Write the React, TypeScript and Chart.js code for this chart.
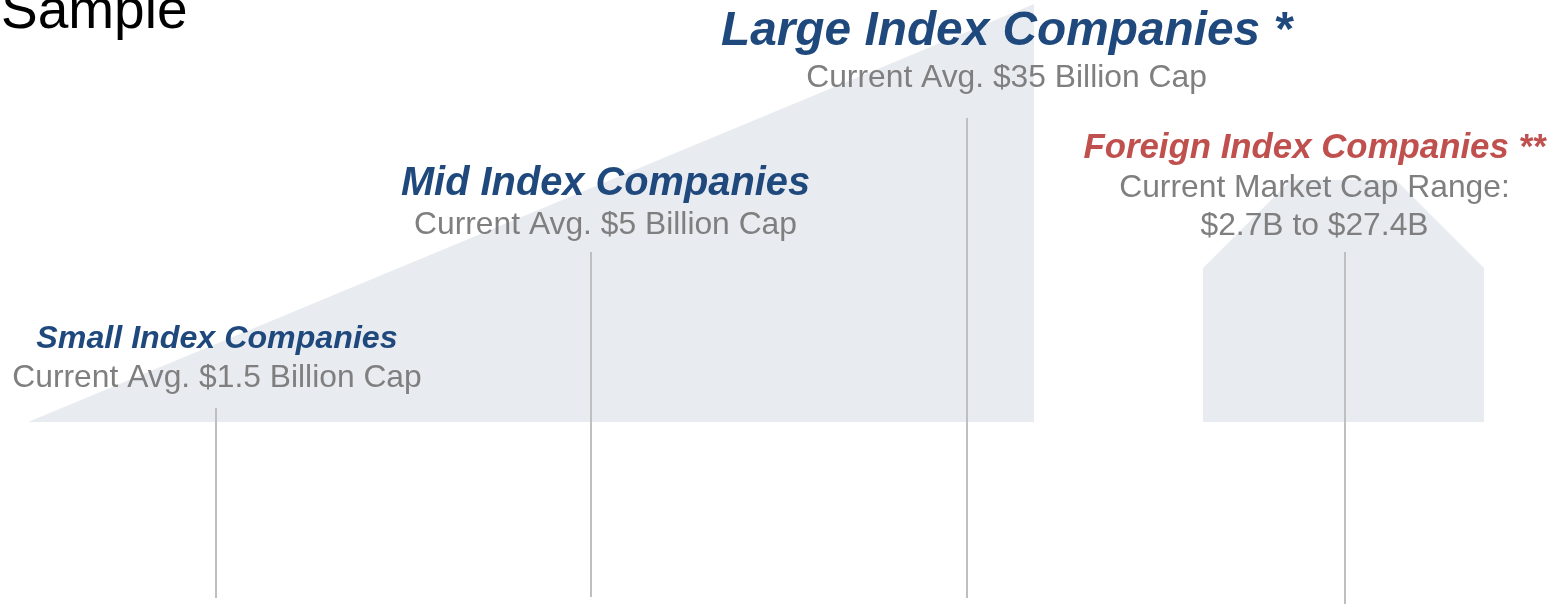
import React, { useEffect, useRef } from "react";
import { Chart, registerables } from "chart.js";

Chart.register(...registerables);

// Area shapes (x: position units, y: height above the area baseline)
const largeAreaX = [2.8, 103.4];
const largeAreaY = [0, 41.8];
const foreignAreaX = [120.3, 129.1, 139.6, 148.4];
const foreignAreaY = [15.4, 24.2, 24.2, 15.4];

// Vertical marker lines per category
const categories = ["Small", "Mid", "Large", "Foreign"];
const markerX = [21.6, 59.1, 96.7, 134.5];
const markerTop = [1.4, 17.0, 30.4, 17.0];
const markerBottom = [-17.6, -17.5, -17.6, -18.2];

// Labels
const titles = ["Small Index Companies", "Mid Index Companies", "Large Index Companies *", "Foreign Index Companies **"];
const subtitles = [
  ["Current Avg. $1.5 Billion Cap"],
  ["Current Avg. $5 Billion Cap"],
  ["Current Avg. $35 Billion Cap"],
  ["Current Market Cap Range:", "$2.7B to $27.4B"],
];
const labelX = [21.7, 60.55, 100.65, 131.45];
const titleY = [7.45, 22.7, 37.75, 26.4];
const subtitleY = [[3.5], [18.8], [33.5], [22.5, 18.7]];
const titleSize = [32.2, 39.8, 47.8, 34.8];
const titleColor = ["#1F497D", "#1F497D", "#1F497D", "#C0504D"];
const headerText = "Sample";

const FONT = "'Liberation Sans', Arial, sans-serif";

const labelPlugin = {
  id: "labels",
  afterDatasetsDraw(chart: any) {
    const { ctx, scales } = chart;
    const xs = scales.x;
    const ys = scales.y;
    ctx.save();
    ctx.textBaseline = "alphabetic";
    // header
    ctx.textAlign = "left";
    ctx.fillStyle = "#000000";
    ctx.font = `55px ${FONT}`;
    ctx.fillText(headerText, xs.getPixelForValue(0.1), ys.getPixelForValue(39.45));
    ctx.textAlign = "center";
    for (let i = 0; i < categories.length; i++) {
      const cx = xs.getPixelForValue(labelX[i]);
      ctx.fillStyle = titleColor[i];
      ctx.font = `italic bold ${titleSize[i]}px ${FONT}`;
      ctx.fillText(titles[i], cx, ys.getPixelForValue(titleY[i]));
      ctx.fillStyle = "#7F7F7F";
      ctx.font = `31.8px ${FONT}`;
      subtitles[i].forEach((s, j) => {
        ctx.fillText(s, cx, ys.getPixelForValue(subtitleY[i][j]));
      });
    }
    ctx.restore();
  },
};

export default function App() {
  const ref = useRef<HTMLCanvasElement>(null);
  useEffect(() => {
    if (!ref.current) return;
    const areaStyle = {
      backgroundColor: "#E8EBF0",
      borderWidth: 0,
      pointRadius: 0,
      fill: { value: 0 },
      tension: 0,
      order: 10,
    };
    const datasets: any[] = [
      {
        ...areaStyle,
        label: "Large area",
        data: largeAreaX.map((x, i) => ({ x, y: largeAreaY[i] })),
      },
      {
        ...areaStyle,
        label: "Foreign area",
        data: foreignAreaX.map((x, i) => ({ x, y: foreignAreaY[i] })),
      },
      ...categories.map((c, i) => ({
        label: c,
        data: [
          { x: markerX[i], y: markerTop[i] },
          { x: markerX[i], y: markerBottom[i] },
        ],
        borderColor: "#BFBFBF",
        borderWidth: 2,
        pointRadius: 0,
        fill: false,
        order: 1,
      })),
    ];
    const chart = new Chart(ref.current, {
      type: "line",
      data: { datasets },
      options: {
        animation: false,
        responsive: false,
        maintainAspectRatio: false,
        layout: { padding: 0 },
        plugins: { legend: { display: false }, tooltip: { enabled: false } },
        scales: {
          x: { type: "linear", min: 0, max: 155.1, display: false },
          y: { type: "linear", min: -18.2, max: 42.2, display: false },
        },
      },
      plugins: [labelPlugin],
    });
    return () => chart.destroy();
  }, []);
  return (
    <div style={{ position: "absolute", left: 0, top: 0, width: 1551, height: 604, background: "#fff" }}>
      <canvas ref={ref} width={1551} height={604} style={{ width: 1551, height: 604 }} />
    </div>
  );
}
